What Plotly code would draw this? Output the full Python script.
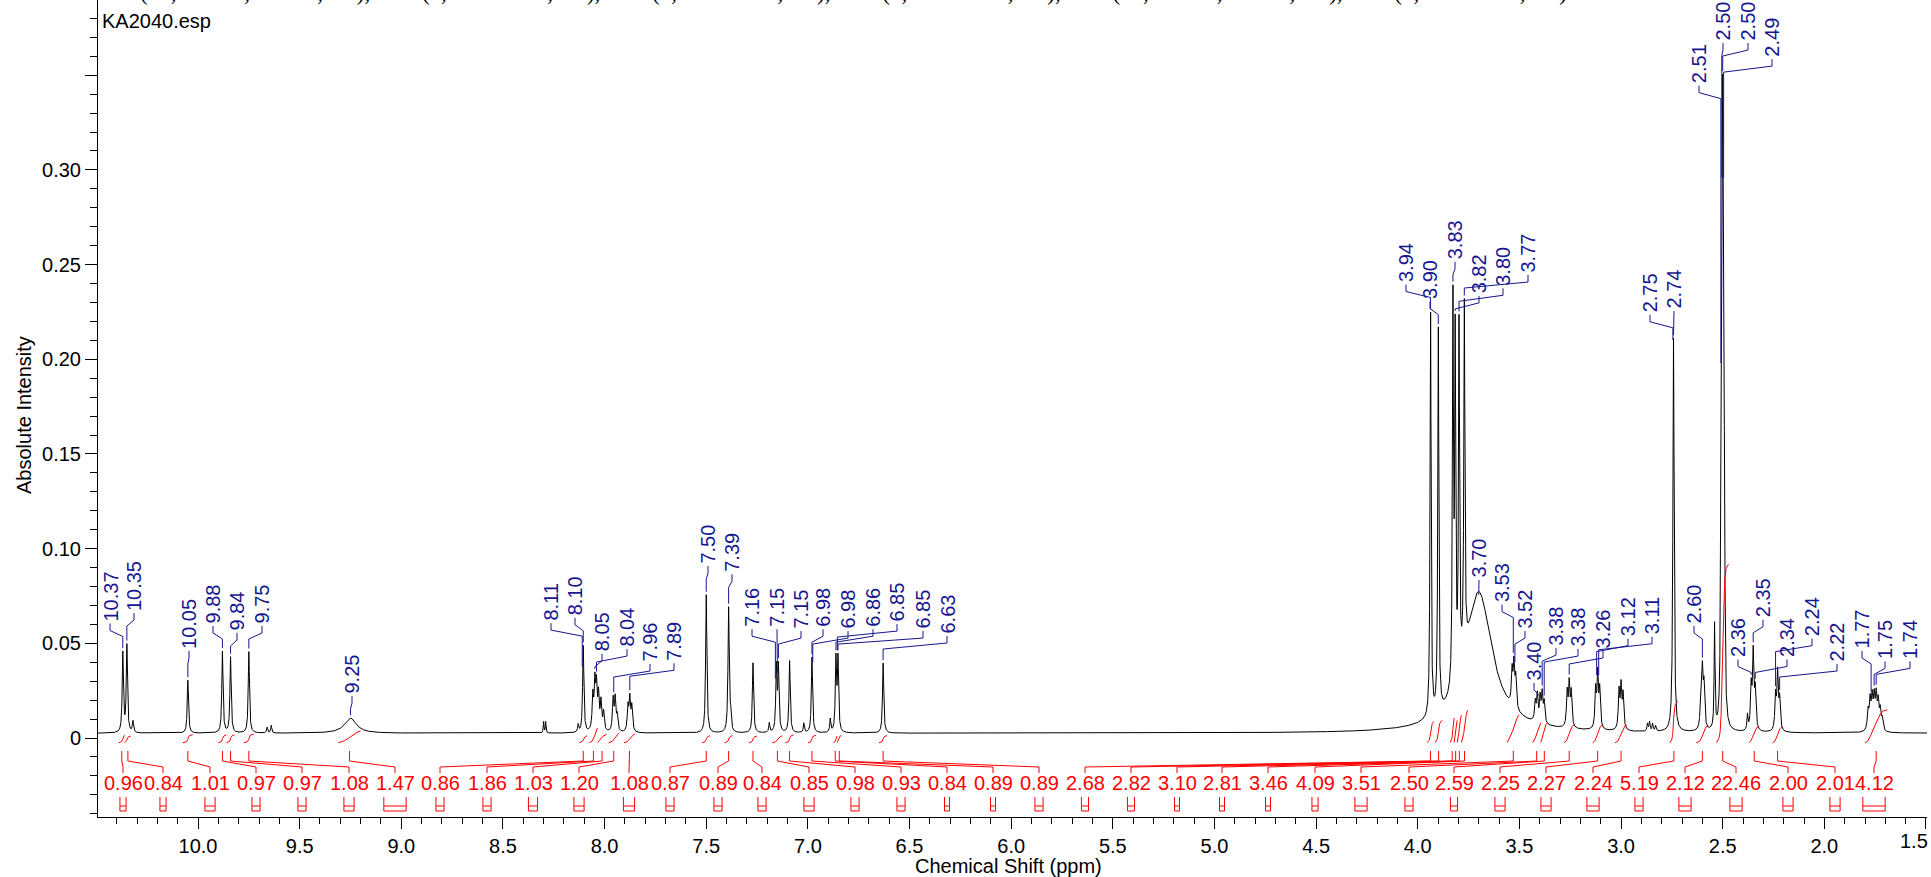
import numpy as np
import plotly.graph_objects as go

# ---------------- data ----------------
baseline_level = 0.0025
# peak table: position (ppm), height above baseline, half width (ppm)
peak_ppm = [10.37, 10.35, 10.32, 10.05, 9.88, 9.84, 9.75, 9.66, 9.64, 9.25,
            8.30, 8.29, 8.13, 8.105, 8.058, 8.048, 8.040, 8.030, 8.018, 8.005,
            7.958, 7.948, 7.938, 7.885, 7.876, 7.866,
            7.50, 7.39, 7.38, 7.27, 7.19, 7.155, 7.145, 7.09, 7.02, 6.98, 6.89,
            6.862, 6.852, 6.63,
            3.70, 3.937, 3.899, 3.827, 3.816, 3.797, 3.771,
            3.536, 3.527, 3.518, 3.422, 3.412, 3.398, 3.388, 3.378,
            3.265, 3.255, 3.245, 3.125, 3.115, 3.105, 3.010, 3.000, 2.990,
            2.870, 2.860, 2.845, 2.830, 2.742, 2.608, 2.600, 2.592, 2.540,
            2.509, 2.5045, 2.500, 2.4955, 2.491, 2.378, 2.360, 2.350, 2.340,
            2.240, 2.230, 2.220,
            1.785, 1.775, 1.765, 1.755, 1.745, 1.735, 1.725, 1.715]
peak_height = [0.042, 0.046, 0.006, 0.028, 0.043, 0.040, 0.043, 0.003, 0.004, 0.008,
               0.006, 0.006, 0.004, 0.046, 0.018, 0.024, 0.022, 0.018, 0.015, 0.010,
               0.017, 0.017, 0.008, 0.013, 0.017, 0.013,
               0.073, 0.066, 0.008, 0.037, 0.005, 0.034, 0.034, 0.038, 0.005, 0.040, 0.007,
               0.038, 0.038, 0.037,
               0.074, 0.214, 0.203, 0.201, 0.178, 0.183, 0.185,
               0.018, 0.022, 0.016, 0.010, 0.014, 0.013, 0.015, 0.011,
               0.018, 0.022, 0.018, 0.020, 0.028, 0.020, 0.020, 0.022, 0.018,
               0.004, 0.005, 0.004, 0.003, 0.208, 0.014, 0.030, 0.022, 0.055,
               0.085, 0.170, 0.255, 0.170, 0.085, 0.008, 0.022, 0.040, 0.020,
               0.018, 0.030, 0.016,
               0.010, 0.015, 0.016, 0.016, 0.017, 0.014, 0.010, 0.006]
peak_hwhm = ([0.0035] * 7 + [0.003, 0.003, 0.035] +
             [0.002, 0.002, 0.003, 0.0035] + [0.004] * 12 +
             [0.0035, 0.0035, 0.003, 0.0035, 0.003, 0.0035, 0.0035, 0.0035, 0.003, 0.0035, 0.003,
              0.0035, 0.0035, 0.0035] +
             [0.08] + [0.003] * 6 +
             [0.004] * 17 +
             [0.003] * 4 + [0.0035, 0.004, 0.004, 0.004, 0.0025] +
             [0.0025] * 5 + [0.003, 0.004, 0.004, 0.004] +
             [0.004] * 3 +
             [0.0045] * 8)

# peak-picking labels (text and the peak they point to)
label_text = ["10.37", "10.35", "10.05", "9.88", "9.84", "9.75", "9.25",
              "8.11", "8.10", "8.05", "8.04", "7.96", "7.89", "7.50", "7.39",
              "7.16", "7.15", "7.15", "6.98", "6.98", "6.86", "6.85", "6.85", "6.63",
              "3.94", "3.90", "3.83", "3.82", "3.80", "3.77", "3.70", "3.53", "3.52",
              "3.40", "3.38", "3.38", "3.26", "3.12", "3.11", "2.75", "2.74", "2.60",
              "2.51", "2.50", "2.50", "2.49", "2.36", "2.35", "2.34", "2.24", "2.22",
              "1.77", "1.75", "1.74"]
label_peak = [10.37, 10.35, 10.05, 9.88, 9.84, 9.75, 9.25,
              8.11, 8.105, 8.048, 8.040, 7.955, 7.876, 7.50, 7.39,
              7.16, 7.15, 7.145, 6.98, 6.976, 6.862, 6.855, 6.852, 6.63,
              3.937, 3.899, 3.827, 3.816, 3.797, 3.771, 3.70, 3.530, 3.522,
              3.40, 3.388, 3.378, 3.255, 3.12, 3.11, 2.745, 2.742, 2.60,
              2.509, 2.5045, 2.500, 2.4955, 2.36, 2.35, 2.34, 2.24, 2.22,
              1.77, 1.755, 1.745]

# integrals: range (ppm) and value
int_start = [10.39, 10.36, 10.075, 9.90, 9.86, 9.775, 9.31, 8.125, 8.075, 8.035, 7.98, 7.905,
             7.52, 7.41, 7.29, 7.175, 7.11, 7.00, 6.875, 6.856, 6.65,
             3.955, 3.915, 3.840, 3.821, 3.806, 3.785, 3.56, 3.435, 3.395, 3.28, 3.14, 3.03,
             2.76, 2.63, 2.53, 2.37, 2.255, 1.80]
int_end = [10.36, 10.33, 10.025, 9.86, 9.82, 9.725, 9.20, 8.085, 8.035, 7.99, 7.93, 7.85,
           7.48, 7.37, 7.25, 7.125, 7.07, 6.96, 6.856, 6.835, 6.61,
           3.920, 3.880, 3.821, 3.806, 3.785, 3.755, 3.50, 3.395, 3.36, 3.23, 3.09, 2.97,
           2.72, 2.57, 2.47, 2.32, 2.205, 1.69]
int_values = [0.96, 0.84, 1.01, 0.97, 0.97, 1.08, 1.47, 0.86, 1.86, 1.03, 1.20, 1.08,
              0.87, 0.89, 0.84, 0.85, 0.98, 0.93, 0.84, 0.89, 0.89,
              2.68, 2.82, 3.10, 2.81, 3.46, 4.09, 3.51, 2.50, 2.59, 2.25, 2.27, 2.24,
              5.19, 2.12, 22.46, 2.00, 2.01, 4.12]

x_ticks = [10.0, 9.5, 9.0, 8.5, 8.0, 7.5, 7.0, 6.5, 6.0, 5.5, 5.0, 4.5, 4.0, 3.5, 3.0, 2.5, 2.0, 1.5]
y_ticks = [0, 0.05, 0.10, 0.15, 0.20, 0.25, 0.30, 0.35]
y_tick_text = ["0", "0.05", "0.10", "0.15", "0.20", "0.25", "0.30", ""]

header_text = ("8.05 (dd, J = 8.7, 2.1 Hz, 1H), 7.96 (d, J = 8.6 Hz, 1H), 7.89 (d, J = 8.6 Hz, 1H), "
               "7.16 (d, J = 2.0 Hz, 1H), 6.98 (dd, J = 8.4, 2.0 Hz, 1H), 6.85 (d, J = 8.4 Hz, 1H)")

# ---------------- layout (pixel geometry of the page) ----------------
W, H = 1931, 877
PL, PR = 98, 1927
PT, PB = 0, 817
XR = (10.492, 1.495)
YR = (-0.0417, 0.3897)
VPP = (YR[1] - YR[0]) / (PB - PT)      # value per pixel
BLUE = "#16168f"
RED = "#ff0000"
FONT = "Liberation Sans, Arial, sans-serif"


def px2ppm(px):
    return XR[0] + (px - PL) / (PR - PL) * (XR[1] - XR[0])


def py2val(py):
    return YR[1] - (py - PT) / (PB - PT) * (YR[1] - YR[0])


def ppm2px(p):
    return PL + (XR[0] - p) / (XR[0] - XR[1]) * (PR - PL)


# label placement (text centre x in px, text bottom as intensity)
label_px = [110, 134, 189, 213, 237, 262, 352,
            551, 575, 602, 627, 650, 674, 708, 732,
            752, 777, 801, 823, 848, 873, 897, 923, 947,
            1406, 1430, 1455, 1479, 1503, 1528, 1479, 1502, 1525,
            1534, 1556, 1578, 1603, 1628, 1652, 1650, 1674, 1694,
            1699, 1723, 1748, 1772, 1738, 1763, 1787, 1812, 1837,
            1862, 1885, 1910]
label_base = [0.061, 0.0665, 0.0465, 0.0597, 0.056, 0.0597, 0.0227,
              0.0612, 0.064, 0.045, 0.0475, 0.0396, 0.040, 0.0913, 0.087,
              0.058, 0.058, 0.057, 0.058, 0.057, 0.058, 0.0607, 0.057, 0.0544,
              0.240, 0.231, 0.252, 0.234, 0.238, 0.245, 0.084, 0.071, 0.057,
              0.0296, 0.048, 0.0475, 0.0465, 0.053, 0.054, 0.224, 0.226, 0.0597,
              0.345, 0.3675, 0.3675, 0.359, 0.042, 0.063, 0.042, 0.053, 0.0396,
              0.0465, 0.041, 0.041]
# integral label centres (px)
int_label_px = [123, 163, 210, 256, 302, 349, 395, 440, 487, 533, 579, 629, 670,
                718, 762, 809, 855, 901, 947, 993, 1039, 1085, 1131, 1177, 1222,
                1268, 1315, 1361, 1409, 1454, 1500, 1546, 1593, 1639, 1685, 1736,
                1788, 1835, 1874]

# ---------------- spectrum ----------------
ppm = np.arange(XR[0], XR[1], -0.0004)
spec = np.full_like(ppm, baseline_level)
for p, h, w in zip(peak_ppm, peak_height, peak_hwhm):
    spec += h / (1.0 + ((ppm - p) / w) ** 2)

fig = go.Figure()
fig.add_trace(go.Scatter(x=ppm, y=spec, mode="lines",
                         line=dict(color="black", width=1), hoverinfo="skip"))

# integral curves
INT_Y0 = -0.0025
INT_SCALE = 0.0042
ix, iy = [], []
for s, e, v in zip(int_start, int_end, int_values):
    m = (ppm <= s) & (ppm >= e)
    seg = np.clip(spec[m] - baseline_level, 0, None)
    cum = np.cumsum(seg)
    cum = cum / cum[-1]
    ix += list(ppm[m]) + [None]
    iy += list(INT_Y0 + v * INT_SCALE * cum) + [None]
fig.add_trace(go.Scatter(x=ix, y=iy, mode="lines", line=dict(color=RED, width=1),
                         hoverinfo="skip"))

annotations = []

# peak labels + leaders
lx, ly = [], []
for txt, tpx, tb, pk in zip(label_text, label_px, label_base, label_peak):
    tx = px2ppm(tpx)
    m = np.abs(ppm - pk) < 0.003
    top = spec[m].max()
    end = min(top + 3 * VPP, tb - 16 * VPP)
    lx += [tx, tx, pk, pk, None]
    ly += [tb - 1 * VPP, tb - 8 * VPP, tb - 14 * VPP, end, None]
    annotations.append(dict(x=tx, y=tb, xref="x", yref="y", text=txt, showarrow=False,
                            textangle=-90, xanchor="center", yanchor="bottom",
                            font=dict(family=FONT, size=20, color=BLUE), borderpad=0))
fig.add_trace(go.Scatter(x=lx, y=ly, mode="lines", line=dict(color=BLUE, width=1),
                         hoverinfo="skip"))

# integral labels, brackets and range marks
bx, by = [], []
ux, uy = [], []
for k in range(len(int_values)):
    c = 0.5 * (int_start[k] + int_end[k])
    lpx = int_label_px[k]
    l = px2ppm(lpx)
    bx += [c, c, l, l, None]
    by += [py2val(751), py2val(761), py2val(767), py2val(773), None]
    wpx = max(ppm2px(int_end[k]) - ppm2px(int_start[k]), 5)
    a, b = px2ppm(lpx - wpx / 2), px2ppm(lpx + wpx / 2)
    ux += [a, a, b, b, None, a, b, None]
    uy += [py2val(797), py2val(811), py2val(811), py2val(797), None,
           py2val(806), py2val(806), None]
    annotations.append(dict(x=l, y=py2val(783), xref="x", yref="y",
                            text=f"{int_values[k]:.2f}", showarrow=False,
                            xanchor="center", yanchor="middle",
                            font=dict(family=FONT, size=20, color=RED)))
fig.add_trace(go.Scatter(x=bx, y=by, mode="lines", line=dict(color=RED, width=1),
                         hoverinfo="skip"))
fig.add_trace(go.Scatter(x=ux, y=uy, mode="lines", line=dict(color=RED, width=1),
                         hoverinfo="skip"))

# texts
annotations.append(dict(x=(100 - PL) / (PR - PL), y=1 - 21 / (PB - PT), xref="paper", yref="paper",
                        text="KA2040.esp", showarrow=False, xanchor="left", yanchor="middle",
                        font=dict(family=FONT, size=20, color="black")))
annotations.append(dict(x=(24 - PL) / (PR - PL), y=1 - 415 / (PB - PT), xref="paper", yref="paper",
                        text="Absolute Intensity", showarrow=False, textangle=-90,
                        xanchor="center", yanchor="middle",
                        font=dict(family=FONT, size=20, color="black")))
annotations.append(dict(x=(1008 - PL) / (PR - PL), y=1 - 866 / (PB - PT), xref="paper", yref="paper",
                        text="Chemical Shift (ppm)", showarrow=False,
                        xanchor="center", yanchor="middle",
                        font=dict(family=FONT, size=20, color="black")))
# last x tick label, pulled inside the page like the reference
annotations.append(dict(x=(1930 - PL) / (PR - PL), y=1 - 841 / (PB - PT), xref="paper", yref="paper",
                        text=f"{x_ticks[-1]:.1f}", showarrow=False,
                        xanchor="right", yanchor="middle",
                        font=dict(family=FONT, size=20, color="black")))
annotations.append(dict(x=(92 - PL) / (PR - PL), y=1, xref="paper", yref="paper",
                        text=header_text, showarrow=False, xanchor="left", yanchor="bottom",
                        yshift=-7, font=dict(family="Liberation Serif, Times New Roman, serif",
                                             size=23, color="black")))

x_tick_text = [f"{t:.1f}" for t in x_ticks[:-1]] + [""]

fig.update_layout(
    width=W, height=H,
    margin=dict(l=PL, r=W - PR, t=PT, b=H - PB, pad=0),
    paper_bgcolor="white", plot_bgcolor="white",
    showlegend=False,
    annotations=annotations,
    xaxis=dict(range=[XR[0], XR[1]], tickmode="array", tickvals=x_ticks,
               ticktext=x_tick_text,
               ticks="outside", ticklen=11, tickwidth=1, tickcolor="black",
               showline=True, linecolor="black", linewidth=1, showgrid=False, zeroline=False,
               tickfont=dict(family=FONT, size=20, color="black"),
               minor=dict(tickmode="linear", tick0=0, dtick=0.1, ticks="outside", ticklen=6,
                          tickwidth=1, tickcolor="black", showgrid=False)),
    yaxis=dict(range=[YR[0], YR[1]], tickmode="array", tickvals=y_ticks, ticktext=y_tick_text,
               ticks="outside", ticklen=12, tickwidth=1, tickcolor="black",
               showline=True, linecolor="black", linewidth=1, showgrid=False, zeroline=False,
               tickfont=dict(family=FONT, size=20, color="black"),
               minor=dict(tickmode="linear", tick0=0, dtick=0.01, ticks="outside", ticklen=7,
                          tickwidth=1, tickcolor="black", showgrid=False)),
)

fig.write_html("out.html", config={"displayModeBar": False},
               post_script="document.body.style.margin='0';document.body.style.overflow='hidden';")
